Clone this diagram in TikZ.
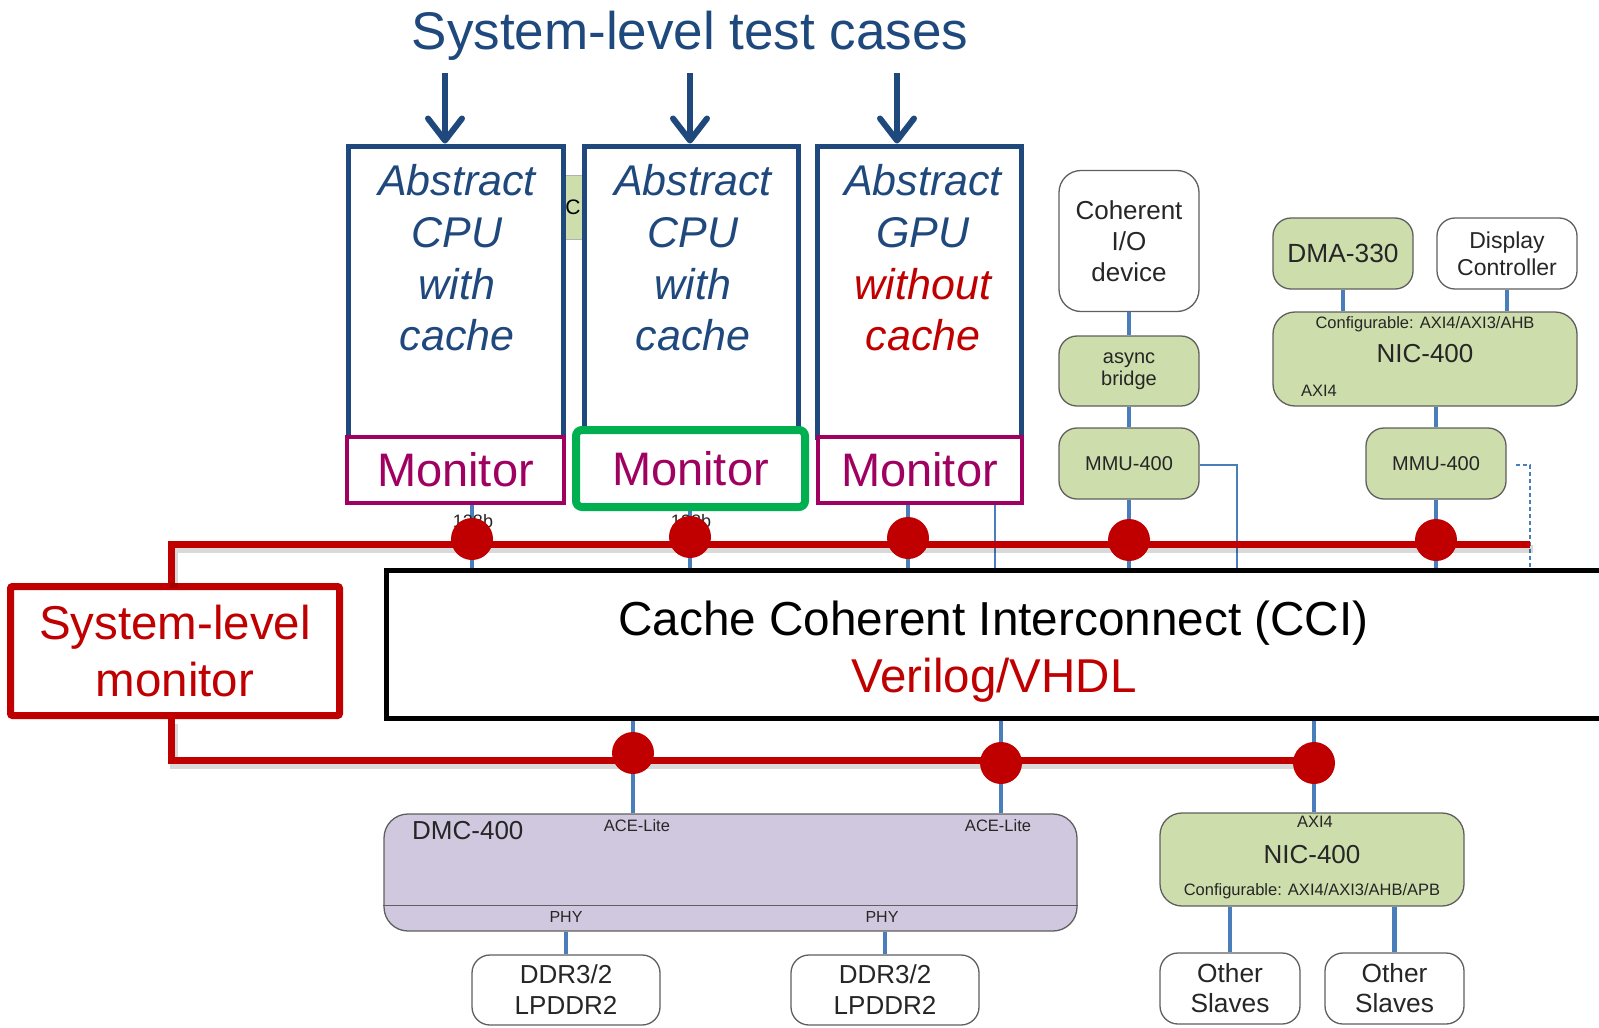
\documentclass[tikz,border=0pt]{standalone}
\usepackage{fontspec}
\setmainfont{Liberation Sans}
\usetikzlibrary{arrows.meta}
\newcommand\pxfont[2]{\fontsize{#1}{#2}\selectfont}
\definecolor{cpublue}{RGB}{31,73,125}
\definecolor{monpurple}{RGB}{160,0,96}
\definecolor{mongreen}{RGB}{0,176,80}
\definecolor{busred}{RGB}{192,0,0}
\definecolor{armgreen}{RGB}{205,221,172}
\definecolor{armlilac}{RGB}{208,200,222}
\definecolor{wirecol}{RGB}{74,126,187}
\definecolor{armedge}{RGB}{95,95,95}
\begin{document}
\begin{tikzpicture}[x=1pt,y=-1pt,
  cpubox/.style={draw=cpublue,line width=5pt,fill=white,inner sep=0pt},
  cputext/.style={inner sep=0pt,text=cpublue,align=center,font=\pxfont{43}{51.7}\itshape},
  monbox/.style={draw=monpurple,line width=4pt,fill=white,inner sep=0pt,text=monpurple,font=\pxfont{47}{56}},
  armbox/.style={draw=armedge,line width=1.3pt,rounded corners=18pt,fill=armgreen,inner sep=0pt,align=center,text=black!85},
  plainbox/.style={armbox,fill=white},
  lab/.style={inner sep=0pt,text=black!85},
  wire/.style={draw=wirecol,line width=4.5pt},
  thinwire/.style={draw=wirecol,line width=2pt},
  bus/.style={draw=busred,line width=7pt},
  busshadow/.style={draw=black,opacity=0.15,line width=8pt},
  probe/.style={circle,fill=busred,minimum size=42pt,inner sep=0pt},
  testarrow/.style={draw=cpublue,line width=6pt,-{Straight Barb[length=22pt,width=34pt,line cap=round,line join=round]}}
]
\useasboundingbox (0,0) rectangle (1599,1028);
\clip (0,0) rectangle (1599,1028);

% probe points on the monitor bus
\coordinate (pA) at (472,539);
\coordinate (pB) at (690,537);
\coordinate (pC) at (908,538);
\coordinate (pD) at (1129,540);
\coordinate (pE) at (1436,540);
\coordinate (pF) at (633,753);
\coordinate (pG) at (1001,763);
\coordinate (pH) at (1314,763);

% cluster block peeking out between the processor models
\node[draw=gray!60,line width=1pt,fill=armgreen,minimum width=60pt,minimum height=64pt,inner sep=0pt,font=\pxfont{21}{24}] (cluster) at (573,207) {C};

% abstract processor models
\node[cpubox,minimum width=215pt,minimum height=291pt] (cpuA) at (455.5,291.5) {};
\node[cpubox,minimum width=214pt,minimum height=291pt] (cpuB) at (691.5,291.5) {};
\node[cpubox,minimum width=204pt,minimum height=291pt] (cpuC) at (919.5,291.5) {};
\node[cputext] (cpuAtext) at (457,258) {Abstract\\CPU\\with\\cache};
\node[cputext] (cpuBtext) at (693,258) {Abstract\\CPU\\with\\cache};
\node[cputext] (cpuCtext) at (923,258) {Abstract\\GPU\\\textcolor{busred}{without}\\\textcolor{busred}{cache}};

% per-port monitors
\node[monbox,minimum width=217pt,minimum height=66pt] (monA) at (455.5,470) {Monitor};
\node[monbox,draw=mongreen,line width=8pt,rounded corners=6pt,minimum width=229pt,minimum height=77pt] (monB) at (690.5,468.5) {Monitor};
\node[monbox,minimum width=204pt,minimum height=66pt] (monC) at (919.5,470) {Monitor};

% test case stimulus
\node[inner sep=0pt,text=cpublue,font=\pxfont{53}{60},anchor=base] (title) at (690,49) {System-level test cases};
\coordinate (arrA) at (445,73);
\coordinate (arrB) at (690,73);
\coordinate (arrC) at (897,73);
\draw[testarrow] (arrA) -- (arrA |- cpuA.north);
\draw[testarrow] (arrB) -- (arrB |- cpuB.north);
\draw[testarrow] (arrC) -- (arrC |- cpuC.north);

% interconnect
\node[draw=black,line width=5pt,fill=white,minimum width=1234pt,minimum height=148pt,inner sep=0pt] (cci) at (1003,644.5) {};
\node[lab,text=black,font=\pxfont{47.7}{56},anchor=base] (cciName) at (993.5,635) {Cache Coherent Interconnect (CCI)};
\node[lab,text=busred,font=\pxfont{47.5}{56},anchor=base] (cciLang) at (994,692) {Verilog/VHDL};

% upper masters
\node[plainbox,minimum width=140pt,minimum height=141pt,rounded corners=22pt,font=\pxfont{26}{31}] (coh) at (1129,241) {Coherent\\I/O\\device};
\node[armbox,minimum width=140pt,minimum height=70pt,font=\pxfont{20}{22}] (async) at (1129,371) {async\\bridge};
\node[armbox,minimum width=140pt,minimum height=71pt,font=\pxfont{20}{24}] (mmuL) at (1129,463.5) {MMU-400};
\node[armbox,minimum width=140pt,minimum height=71pt,font=\pxfont{26.3}{30}] (dma) at (1343,253.5) {DMA-330};
\node[plainbox,minimum width=140pt,minimum height=71pt,font=\pxfont{23}{27}] (disp) at (1507,253.5) {Display\\Controller};
\node[armbox,minimum width=304pt,minimum height=94pt,rounded corners=22pt] (nicT) at (1425,359) {};
\node[lab,font=\pxfont{16.5}{20}] (nicTcfg) at (1425,324) {Configurable: AXI4/AXI3/AHB};
\node[lab,font=\pxfont{26}{30}] (nicTname) at (1425,354) {NIC-400};
\node[lab,font=\pxfont{16.5}{20}] (nicTaxi) at (1319,391) {AXI4};
\node[armbox,minimum width=140pt,minimum height=71pt,font=\pxfont{20}{24}] (mmuR) at (1436,463.5) {MMU-400};

\coordinate (loopL) at (1237,465);
\coordinate (loopR) at (1530,465);
\draw[wire] (coh.south) -- (async.north);
\draw[wire] (async.south) -- (mmuL.north);
\draw[wire] (mmuL.south) -- (mmuL.south |- cci.north);
\draw[thinwire] (mmuL.east |- loopL) -- (loopL) -- (loopL |- cci.north);
\draw[wire] (dma.south) -- (dma.south |- nicT.north);
\draw[wire] (disp.south) -- (disp.south |- nicT.north);
\draw[wire] (mmuR.north |- nicT.south) -- (mmuR.north);
\draw[wire] (mmuR.south) -- (mmuR.south |- cci.north);
\draw[draw=wirecol,line width=1.5pt,dash pattern=on 4pt off 3pt] ([xshift=9pt]mmuR.east |- loopR) -- (loopR) -- (loopR |- cci.north);

% processor ports into the interconnect
\coordinate (gpuAux) at (995,0);
\draw[wire] (monA.south -| pA) -- (pA |- cci.north);
\draw[wire] (monB.south -| pB) -- (pB |- cci.north);
\draw[wire] (monC.south -| pC) -- (pC |- cci.north);
\draw[thinwire] (monC.south -| gpuAux) -- (gpuAux |- cci.north);
\node[lab,font=\pxfont{18}{20}] (busWidthA) at (473,521) {128b};
\node[lab,font=\pxfont{18}{20}] (busWidthB) at (691,521) {128b};

% memory side
\node[armbox,fill=armlilac,rounded corners=24pt,minimum width=693pt,minimum height=117pt] (dmc) at (730.5,872.5) {};
\draw[draw=armedge,line width=1.3pt] ([yshift=26pt]dmc.south west) -- ([yshift=26pt]dmc.south east);
\node[lab,font=\pxfont{26}{30},anchor=west] (dmcName) at (412,831) {DMC-400};
\node[lab,font=\pxfont{16.5}{20}] (aceA) at (637,826) {ACE-Lite};
\node[lab,font=\pxfont{16.5}{20}] (aceB) at (998,826) {ACE-Lite};
\node[lab,font=\pxfont{16}{20}] (phyA) at (566,917) {PHY};
\node[lab,font=\pxfont{16}{20}] (phyB) at (882,917) {PHY};
\node[plainbox,minimum width=188pt,minimum height=70pt,font=\pxfont{26}{32}] (ddrA) at (566,990) {DDR3/2\\[-1pt]LPDDR2};
\node[plainbox,minimum width=188pt,minimum height=70pt,font=\pxfont{26}{32}] (ddrB) at (885,990) {DDR3/2\\[-1pt]LPDDR2};
\draw[wire] (ddrA.north |- dmc.south) -- (ddrA.north);
\draw[wire] (ddrB.north |- dmc.south) -- (ddrB.north);

% peripheral side
\node[armbox,rounded corners=22pt,minimum width=304pt,minimum height=93pt] (nicB) at (1312,859.5) {};
\node[lab,font=\pxfont{16.5}{20}] (nicBaxi) at (1315,822) {AXI4};
\node[lab,font=\pxfont{26}{30}] (nicBname) at (1312,855) {NIC-400};
\node[lab,font=\pxfont{16.5}{20}] (nicBcfg) at (1312,891) {Configurable: AXI4/AXI3/AHB/APB};
\node[plainbox,minimum width=140pt,minimum height=71pt,font=\pxfont{26.3}{30}] (othA) at (1230,988.5) {Other\\Slaves};
\node[plainbox,minimum width=139pt,minimum height=71pt,font=\pxfont{26.3}{30}] (othB) at (1394.5,988.5) {Other\\Slaves};
\draw[wire] (othA.north |- nicB.south) -- (othA.north);
\draw[wire] (othB.north |- nicB.south) -- (othB.north);

\draw[wire] (cci.south -| pF) -- (pF |- dmc.north);
\draw[wire] (cci.south -| pG) -- (pG |- dmc.north);
\draw[wire] (cci.south -| pH) -- (pH |- nicB.north);

% system-level monitor and its bus
\node[draw=busred,line width=7pt,fill=white,rounded corners=2pt,minimum width=329pt,minimum height=129pt,inner sep=0pt,align=center,text=busred,font=\pxfont{47.5}{57}] (slm) at (175,651) {System-level\\monitor};
\coordinate (busTL) at (171,544);
\coordinate (busTR) at (1530,544);
\coordinate (busBL) at (171,760);
\begin{scope}[transform canvas={xshift=3pt,yshift=-5pt}]
\draw[busshadow] (slm.north -| busTL) -- (busTL) -- (busTR);
\draw[busshadow] (slm.south -| busBL) -- (busBL) -- (busBL -| pH);
\end{scope}
\draw[bus] (slm.north -| busTL) -- (busTL) -- (busTR);
\draw[bus] (slm.south -| busBL) -- (busBL) -- (busBL -| pH);

% probes
\node[probe] (probeA) at (pA) {};
\node[probe] (probeB) at (pB) {};
\node[probe] (probeC) at (pC) {};
\node[probe] (probeD) at (pD) {};
\node[probe] (probeE) at (pE) {};
\node[probe] (probeF) at (pF) {};
\node[probe] (probeG) at (pG) {};
\node[probe] (probeH) at (pH) {};
\end{tikzpicture}
\end{document}
